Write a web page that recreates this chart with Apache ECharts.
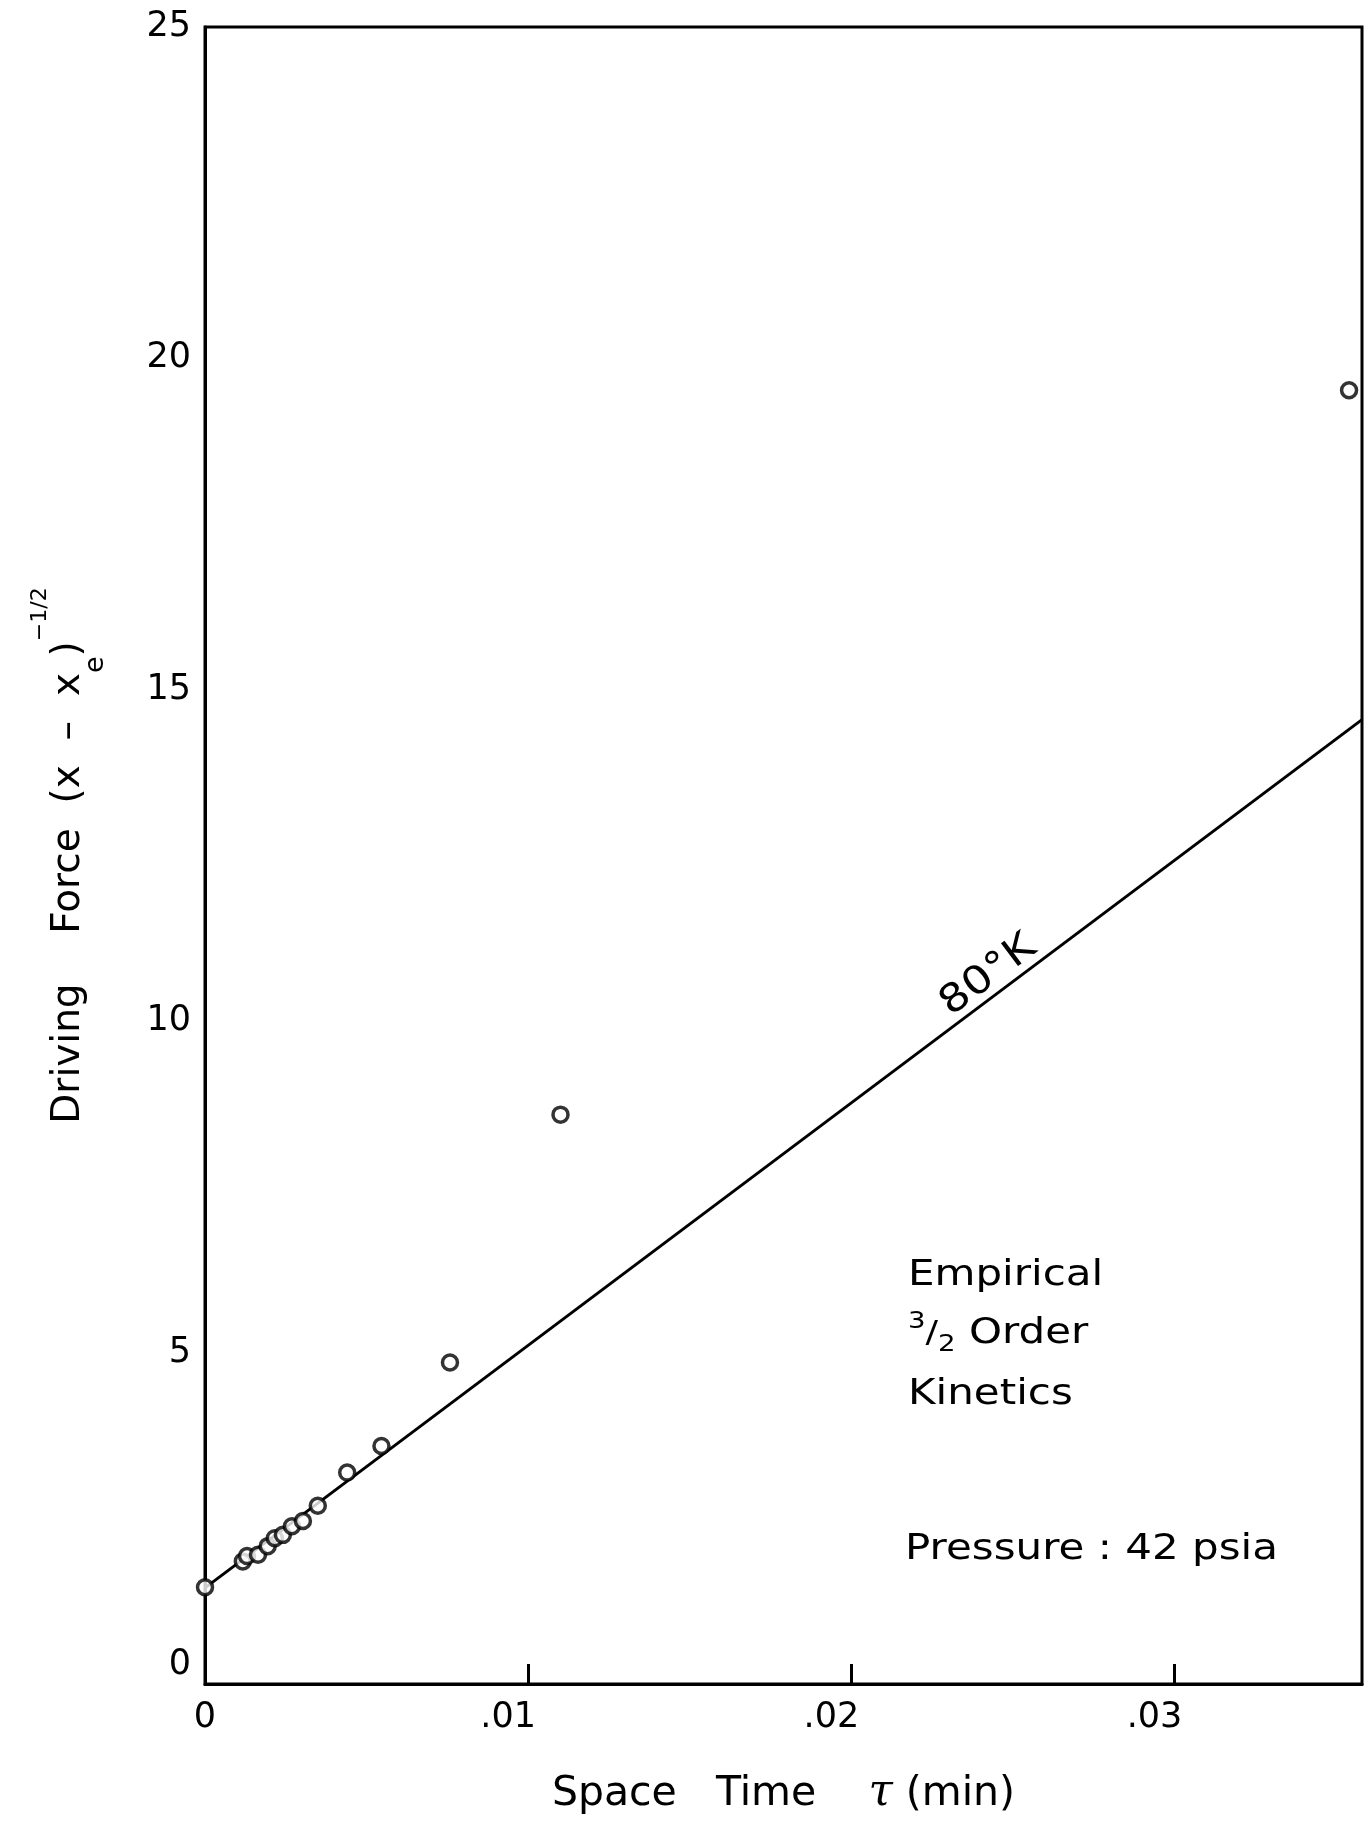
<!DOCTYPE html>
<html>
<head>
<meta charset="utf-8">
<script src="https://cdn.jsdelivr.net/npm/echarts@6/dist/echarts.min.js"></script>
<style>
  html, body { margin: 0; padding: 0; background: #fff; }
  #chart { width: 1370px; height: 1821px; }
</style>
</head>
<body>
<div id="chart"></div>
<script>
// Measured space time (min) and driving force (x - xe)^-1/2
var tau   = [0, 0.00117, 0.0013, 0.00164, 0.00194, 0.00216, 0.00241, 0.00269, 0.00303, 0.00349, 0.0044, 0.00546, 0.00758, 0.0110, 0.0354];
var force = [1.46, 1.85, 1.93, 1.95, 2.08, 2.20, 2.25, 2.38, 2.46, 2.69, 3.19, 3.59, 4.85, 8.59, 19.52];

// Empirical 3/2 order kinetics line at 80 K
var fitTau   = [0, 0.0358];
var fitForce = [1.45, 14.55];

var xTicks = [0, 0.01, 0.02, 0.03];
var yTicks = [0, 5, 10, 15, 20, 25];

var FONT = '"DejaVu Sans", sans-serif';

var points = tau.map(function (t, i) { return [t, force[i]]; });
var fitLine = fitTau.map(function (t, i) { return [t, fitForce[i]]; });

var chart = echarts.init(document.getElementById('chart'), null, { renderer: 'canvas' });

var option = {
  backgroundColor: '#ffffff',
  animation: false,
  grid: {
    left: 205, right: 8, top: 27, bottom: 133,
    show: true, borderColor: '#000', borderWidth: 3, backgroundColor: 'transparent'
  },
  xAxis: {
    type: 'value',
    min: 0, max: 0.0358, interval: 0.01,
    splitLine: { show: false },
    axisLine: { show: true, onZero: false, lineStyle: { color: '#000', width: 3 } },
    axisTick: { show: true, inside: true, length: 20, lineStyle: { color: '#000', width: 3 } },
    axisLabel: {
      margin: 16, color: '#000', fontSize: 35, fontFamily: FONT, showMaxLabel: false,
      formatter: function (v) {
        var n = Math.round(v * 100);
        if (n === 0) return '0';
        return '{d|.' + (n < 10 ? '0' + n : String(n)) + '}';
      },
      rich: { d: { fontSize: 35, fontFamily: FONT, color: '#000', padding: [0, 40, 0, 0] } }
    },
    name: 'Space   Time    {t|τ} (min)',
    nameLocation: 'middle', nameGap: 88,
    nameTextStyle: {
      color: '#000', fontSize: 41, fontFamily: FONT,
      rich: { t: { fontSize: 44, fontStyle: 'italic', fontFamily: '"DejaVu Serif", serif', color: '#000' } }
    }
  },
  yAxis: {
    type: 'value',
    min: 0, max: 25, interval: 5,
    splitLine: { show: false },
    axisLine: { show: true, onZero: false, lineStyle: { color: '#000', width: 3 } },
    axisTick: { show: false },
    axisLabel: {
      margin: 14, color: '#000', fontSize: 35, fontFamily: FONT,
      formatter: function (v) { return v === 0 ? '{z|0}' : String(v); },
      rich: { z: { fontSize: 35, fontFamily: FONT, color: '#000', padding: [0, 0, 38, 0] } }
    },
    name: 'Driving    Force  (x  –  x{sub|e}){sup|−1/2}',
    nameLocation: 'middle', nameRotate: 90, nameGap: 96,
    nameTextStyle: {
      color: '#000', fontSize: 39, fontFamily: FONT, lineHeight: 80,
      rich: {
        sub: { fontSize: 27, fontFamily: FONT, color: '#000', verticalAlign: 'bottom', lineHeight: 58 },
        sup: { fontSize: 22, fontFamily: FONT, color: '#000', verticalAlign: 'top', lineHeight: 22 }
      }
    }
  },
  series: [
    {
      name: '80°K',
      type: 'line',
      data: fitLine,
      symbol: 'none',
      lineStyle: { color: '#000', width: 3 },
      z: 2
    },
    {
      name: 'data',
      type: 'scatter',
      data: points,
      symbol: 'circle',
      symbolSize: 15,
      itemStyle: { color: '#fff', borderColor: '#000', borderWidth: 3.5 },
      z: 3
    }
  ]
};

chart.setOption(option);

// Line label set along the fitted line (sitting just above it), plus the annotation block
var a = chart.convertToPixel({ gridIndex: 0 }, fitLine[0]);
var b = chart.convertToPixel({ gridIndex: 0 }, fitLine[1]);
var ang = Math.atan2(a[1] - b[1], b[0] - a[0]);
var lx = 0.0246;
var lp = chart.convertToPixel({ gridIndex: 0 }, [lx, fitForce[0] + (fitForce[1] - fitForce[0]) * lx / fitTau[1]]);

function note(x, y, text, extra) {
  var st = { text: text, fill: '#000', font: '35px ' + FONT, textAlign: 'left', textVerticalAlign: 'middle' };
  if (extra) { for (var k in extra) st[k] = extra[k]; }
  return { type: 'text', x: x, y: y, scaleX: 1.2, style: st };
}

chart.setOption({
  graphic: [
    {
      type: 'text', x: lp[0], y: lp[1], rotation: ang, scaleX: 1.15,
      style: { text: '80°K', fill: '#000', font: '39px ' + FONT, textAlign: 'center', textVerticalAlign: 'bottom' }
    },
    note(908, 1276, 'Empirical'),
    note(908, 1334, '{sup|3}{sl|/}{sub|2} Order', {
      rich: {
        sup: { fontSize: 23, fontFamily: FONT, fill: '#000', verticalAlign: 'top', lineHeight: 46 },
        sl: { fontSize: 31, fontFamily: FONT, fill: '#000', lineHeight: 46 },
        sub: { fontSize: 23, fontFamily: FONT, fill: '#000', verticalAlign: 'bottom', lineHeight: 46 }
      }
    }),
    note(908, 1395, 'Kinetics'),
    note(905, 1550, 'Pressure : 42 psia')
  ]
});
</script>
</body>
</html>
